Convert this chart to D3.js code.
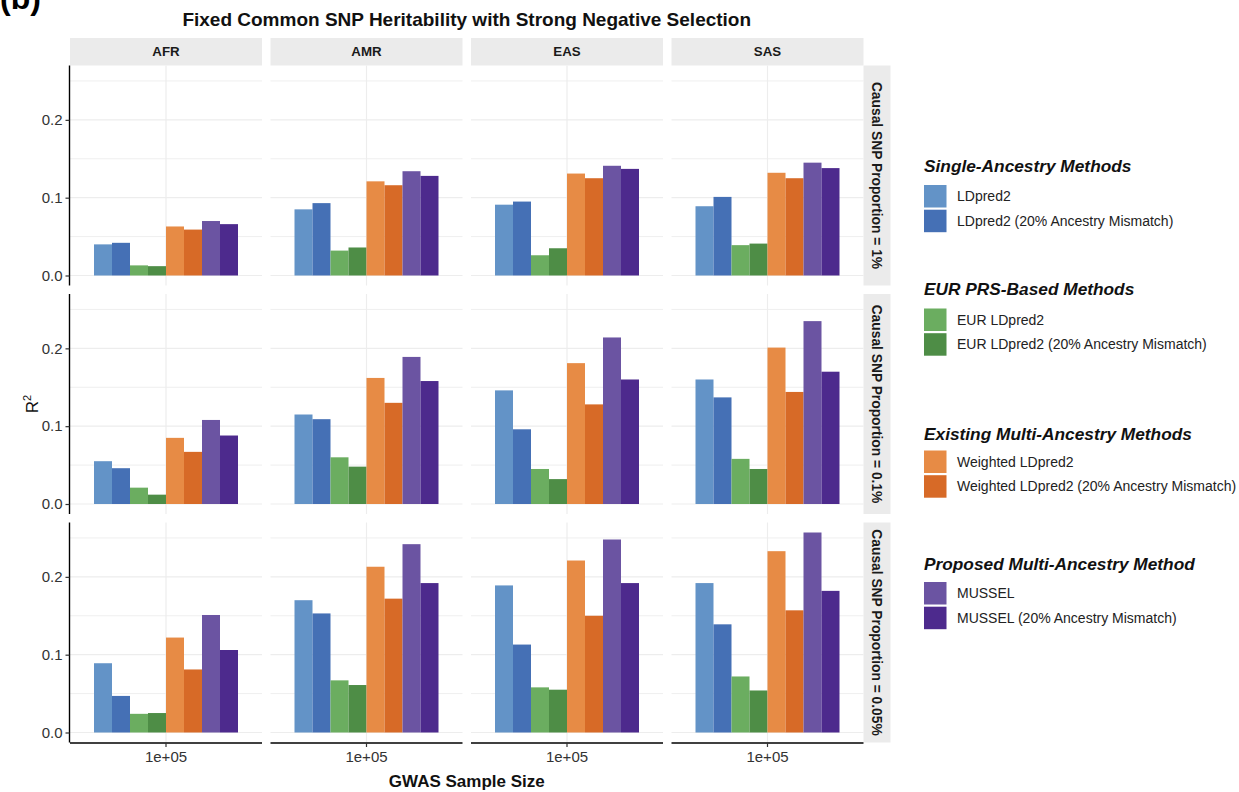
<!DOCTYPE html>
<html>
<head>
<meta charset="utf-8">
<script src="https://cdn.jsdelivr.net/npm/d3@7/dist/d3.min.js"></script>
<style>
  html, body { margin: 0; padding: 0; background: #fff; }
  svg { display: block; font-family: "Liberation Sans", Arial, Helvetica, sans-serif; }
</style>
</head>
<body>
<svg id="chart" width="1239" height="792"></svg>
<script>
// Facets
const ancestries = ["AFR", "AMR", "EAS", "SAS"];
const proportions = ["Causal SNP Proportion = 1%", "Causal SNP Proportion = 0.1%", "Causal SNP Proportion = 0.05%"];
const sampleSizes = ["1e+05"];

// Methods (bar order within each panel)
const methods = [
  "LDpred2", "LDpred2 (20% Ancestry Mismatch)",
  "EUR LDpred2", "EUR LDpred2 (20% Ancestry Mismatch)",
  "Weighted LDpred2", "Weighted LDpred2 (20% Ancestry Mismatch)",
  "MUSSEL", "MUSSEL (20% Ancestry Mismatch)"
];
const methodColors = ["#6393c7", "#4570b5", "#6bad60", "#4e8d46", "#e78b45", "#d76a27", "#6b54a2", "#4d2a8d"];

// Legend groups
const groupTitles = ["Single-Ancestry Methods", "EUR PRS-Based Methods", "Existing Multi-Ancestry Methods", "Proposed Multi-Ancestry Method"];
const groupMembers = [[0, 1], [2, 3], [4, 5], [6, 7]];

// R^2 values: one row per ancestry (AFR, AMR, EAS, SAS), one column per method
const r2Prop1 = [
  [0.040, 0.042, 0.013, 0.012, 0.063, 0.059, 0.070, 0.066],
  [0.085, 0.093, 0.032, 0.036, 0.121, 0.116, 0.134, 0.128],
  [0.091, 0.095, 0.026, 0.035, 0.131, 0.125, 0.141, 0.137],
  [0.089, 0.101, 0.039, 0.041, 0.132, 0.125, 0.145, 0.138]
];
const r2Prop01 = [
  [0.055, 0.046, 0.021, 0.012, 0.085, 0.067, 0.108, 0.088],
  [0.115, 0.109, 0.060, 0.048, 0.162, 0.130, 0.189, 0.158],
  [0.146, 0.096, 0.045, 0.032, 0.181, 0.128, 0.214, 0.160],
  [0.160, 0.137, 0.058, 0.045, 0.201, 0.144, 0.235, 0.170]
];
const r2Prop005 = [
  [0.089, 0.047, 0.024, 0.025, 0.122, 0.081, 0.151, 0.106],
  [0.170, 0.153, 0.067, 0.061, 0.213, 0.172, 0.242, 0.192],
  [0.189, 0.113, 0.058, 0.055, 0.221, 0.150, 0.248, 0.192],
  [0.192, 0.139, 0.072, 0.054, 0.233, 0.157, 0.257, 0.182]
];
const r2ByProportion = [r2Prop1, r2Prop01, r2Prop005];
const yTicks = [0, 0.1, 0.2];
const yMinorTicks = [0.05, 0.15, 0.25];

// ---- layout ----
const svg = d3.select("#chart");
const panelW = 192, panelH = 220;
const colLeft = ancestries.map((_, i) => 70 + i * 200.5);
const rowTop = proportions.map((_, i) => 65.5 + i * 228.5);
const stripTopY = 38, stripTopH = 27.5;
const stripRightW = 27;
const gridColor = "#ededed";
const txtColor = "#333333";

// Shared y domain with 5% expansion, as in the facetted plot
const yMax = d3.max(r2ByProportion.flat(2));
const yDomain = [-0.05 * yMax, yMax * 1.05];

// x: single sample-size category, bars dodged across 0.9 of a unit out of 1.2
const xBand = d3.scaleBand().domain(sampleSizes).range([0, panelW]).paddingInner(0).paddingOuter(1 / 6);
const xMethod = d3.scaleBand().domain(methods).range([0, xBand.bandwidth()]).padding(0);

// Title and tag
svg.append("text").attr("x", 0).attr("y", 9).attr("font-size", 32).attr("font-weight", "bold")
  .attr("fill", "#000").text("(b)");
svg.append("text").attr("x", (colLeft[0] + colLeft[3] + panelW) / 2).attr("y", 26)
  .attr("text-anchor", "middle").attr("font-size", 19).attr("font-weight", "bold").attr("fill", "#111")
  .text("Fixed Common SNP Heritability with Strong Negative Selection");

// Top strips
ancestries.forEach((a, c) => {
  svg.append("rect").attr("x", colLeft[c]).attr("y", stripTopY).attr("width", panelW).attr("height", stripTopH)
    .attr("fill", "#ebebeb");
  svg.append("text").attr("x", colLeft[c] + panelW / 2).attr("y", stripTopY + stripTopH / 2)
    .attr("dy", "0.35em").attr("text-anchor", "middle").attr("font-size", 13.3).attr("font-weight", "bold")
    .attr("fill", "#1a1a1a").text(a);
});

// Right strips
proportions.forEach((p, r) => {
  const x0 = colLeft[3] + panelW;
  svg.append("rect").attr("x", x0).attr("y", rowTop[r]).attr("width", stripRightW).attr("height", panelH)
    .attr("fill", "#ebebeb");
  svg.append("text")
    .attr("transform", `translate(${x0 + stripRightW / 2},${rowTop[r] + panelH / 2}) rotate(90)`)
    .attr("dy", "0.35em").attr("text-anchor", "middle").attr("font-size", 13.8).attr("font-weight", "bold")
    .attr("fill", "#1a1a1a").text(p);
});

// Panels
proportions.forEach((p, r) => {
  const y = d3.scaleLinear().domain(yDomain).range([rowTop[r] + panelH, rowTop[r]]);
  ancestries.forEach((a, c) => {
    const g = svg.append("g").attr("transform", `translate(${colLeft[c]},0)`);
    // grid
    g.selectAll("line.minor").data(yMinorTicks).join("line")
      .attr("x1", 0).attr("x2", panelW).attr("y1", d => y(d)).attr("y2", d => y(d))
      .attr("stroke", gridColor).attr("stroke-width", 0.9);
    g.selectAll("line.major").data(yTicks).join("line")
      .attr("x1", 0).attr("x2", panelW).attr("y1", d => y(d)).attr("y2", d => y(d))
      .attr("stroke", gridColor).attr("stroke-width", 1.2);
    g.selectAll("line.vmajor").data(sampleSizes).join("line")
      .attr("x1", d => xBand(d) + xBand.bandwidth() / 2).attr("x2", d => xBand(d) + xBand.bandwidth() / 2)
      .attr("y1", rowTop[r]).attr("y2", rowTop[r] + panelH)
      .attr("stroke", gridColor).attr("stroke-width", 1.2);
    // bars
    const vals = r2ByProportion[r][c];
    g.selectAll("rect.bar").data(methods).join("rect")
      .attr("x", (m) => xBand(sampleSizes[0]) + xMethod(m))
      .attr("width", xMethod.bandwidth())
      .attr("y", (m, i) => y(vals[i]))
      .attr("height", (m, i) => y(0) - y(vals[i]))
      .attr("fill", (m, i) => methodColors[i]);

    // left axis on first column
    if (c === 0) {
      const ax = g.append("g").attr("transform", "translate(-0.5,0)")
        .call(d3.axisLeft(y).tickValues(yTicks).tickFormat(d3.format(".1f")).tickSize(4).tickPadding(3));
      ax.select(".domain").attr("d", `M0,${rowTop[r]}V${rowTop[r] + panelH}`).attr("stroke", "#000").attr("stroke-width", 1.4);
      ax.selectAll(".tick line").attr("stroke", "#333").attr("stroke-width", 1.2);
      ax.selectAll(".tick text").attr("font-size", 15).attr("fill", txtColor)
        .attr("font-family", "Liberation Sans, Arial, sans-serif");
    }
    // bottom axis on last row
    if (r === proportions.length - 1) {
      const ax = g.append("g").attr("transform", `translate(0,${rowTop[r] + panelH + 0.5})`)
        .call(d3.axisBottom(xBand).tickSize(4).tickPadding(4));
      ax.select(".domain").attr("d", `M0,0H${panelW}`).attr("stroke", "#000").attr("stroke-width", 1.4);
      ax.selectAll(".tick line").attr("stroke", "#333").attr("stroke-width", 1.2);
      ax.selectAll(".tick text").attr("font-size", 15).attr("fill", txtColor)
        .attr("font-family", "Liberation Sans, Arial, sans-serif");
    }
  });
});

// Axis titles
const midY = (rowTop[0] + rowTop[2] + panelH) / 2;
const yLab = svg.append("text").attr("transform", `translate(38,${midY}) rotate(-90)`)
  .attr("text-anchor", "middle").attr("font-size", 17).attr("fill", "#111");
yLab.append("tspan").text("R");
yLab.append("tspan").attr("font-size", 11).attr("dy", -7).text("2");
svg.append("text").attr("x", (colLeft[0] + colLeft[3] + panelW) / 2).attr("y", 787)
  .attr("text-anchor", "middle").attr("font-size", 17).attr("font-weight", "bold").attr("fill", "#111")
  .text("GWAS Sample Size");

// Legend
const legTitleY = [172, 295, 440, 570];
const legKeyTop = [185, 308.5, 450.5, 582];
const keySize = 22.5, keyStep = 24.7;
groupTitles.forEach((t, gi) => {
  svg.append("text").attr("x", 924).attr("y", legTitleY[gi]).attr("font-size", 17.3)
    .attr("font-weight", "bold").attr("font-style", "italic").attr("fill", "#111").text(t);
  groupMembers[gi].forEach((mi, k) => {
    const ky = legKeyTop[gi] + k * keyStep;
    svg.append("rect").attr("x", 924).attr("y", ky).attr("width", keySize).attr("height", keySize)
      .attr("fill", methodColors[mi]);
    svg.append("text").attr("x", 957).attr("y", ky + keySize / 2).attr("dy", "0.35em")
      .attr("font-size", 14).attr("fill", "#222").text(methods[mi]);
  });
});
</script>
</body>
</html>
